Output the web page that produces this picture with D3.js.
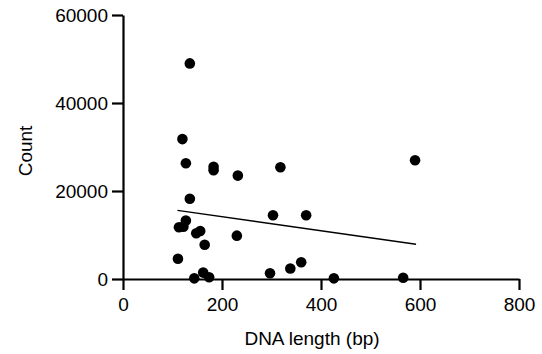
<!DOCTYPE html>
<html>
<head>
<meta charset="utf-8">
<script src="https://cdn.jsdelivr.net/npm/d3@7"></script>
<style>
  body { margin: 0; background: #fff; }
  text { font-family: "Liberation Sans", Arial, sans-serif; }
</style>
</head>
<body>
<div id="chart"></div>
<script>
// DNA length (bp) vs count
const dnaLength = [135, 120, 127, 183, 183, 232, 135, 127, 113, 122, 148, 156, 165, 230, 111,
                   144, 162, 174, 318, 303, 370, 297, 338, 360, 426, 566, 590]
const counts = [49000, 31800, 26300, 25500, 24700, 23500, 18250, 13300, 11750, 11900, 10400, 10900, 7800, 9850, 4600,
                150, 1450, 400, 25400, 14500, 14500, 1300, 2400, 3800, 150, 300, 27000]
// linear fit, endpoints as drawn
const fitX = [110, 592]
const fitY = [15600, 7900]

const xTicks = [0, 200, 400, 600, 800]
const yTicks = [0, 20000, 40000, 60000]

const width = 542, height = 354
const margin = {top: 15, right: 23, bottom: 75, left: 123}

const svg = d3.select('#chart').append('svg')
    .attr('width', width)
    .attr('height', height)

const x = d3.scaleLinear().domain([0, 800]).range([margin.left, width - margin.right])
const y = d3.scaleLinear().domain([0, 60000]).range([height - margin.bottom, margin.top])

const fontSize = 19

// axes
const xAxis = d3.axisBottom(x).tickValues(xTicks).tickFormat(d3.format('d'))
    .tickSize(11).tickSizeOuter(0).tickPadding(6)
const yAxis = d3.axisLeft(y).tickValues(yTicks).tickFormat(d3.format('d'))
    .tickSize(11).tickSizeOuter(0).tickPadding(4)

const gx = svg.append('g')
    .attr('transform', `translate(0,${y(0)})`)
    .call(xAxis)
const gy = svg.append('g')
    .attr('transform', `translate(${x(0)},0)`)
    .call(yAxis)

for (const g of [gx, gy]) {
    g.selectAll('.domain, .tick line')
        .attr('stroke', '#000')
        .attr('stroke-width', 2.2)
    g.selectAll('text')
        .attr('fill', '#000')
        .style('font-size', fontSize + 'px')
}
gx.selectAll('.tick text').attr('dy', '0.8em')

// axis titles
svg.append('text')
    .attr('x', 312)
    .attr('y', 345)
    .attr('text-anchor', 'middle')
    .style('font-size', fontSize + 'px')
    .text('DNA length (bp)')

svg.append('text')
    .attr('transform', `translate(32,151) rotate(-90)`)
    .attr('text-anchor', 'middle')
    .style('font-size', fontSize + 'px')
    .text('Count')

// fit line
svg.append('line')
    .attr('x1', x(fitX[0])).attr('y1', y(fitY[0]))
    .attr('x2', x(fitX[1])).attr('y2', y(fitY[1]))
    .attr('stroke', '#000')
    .attr('stroke-width', 1.3)

// points
svg.append('g').selectAll('circle')
    .data(d3.zip(dnaLength, counts))
  .enter().append('circle')
    .attr('cx', d => x(d[0]))
    .attr('cy', d => y(d[1]))
    .attr('r', 5.3)
    .attr('fill', '#000')
</script>
</body>
</html>
